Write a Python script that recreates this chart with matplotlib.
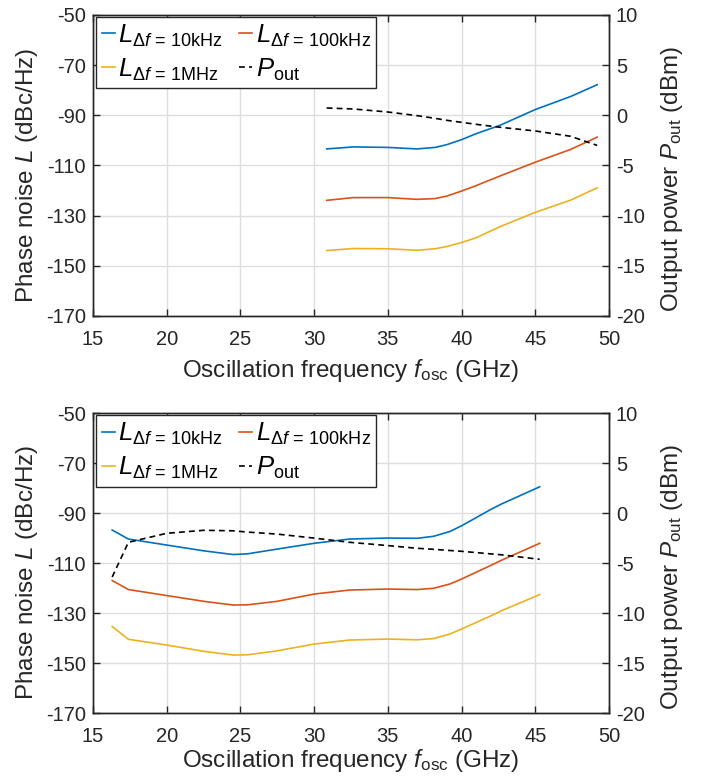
import numpy as np
import matplotlib
matplotlib.use("Agg")
import matplotlib.pyplot as plt

plt.rcParams['font.family'] = ['Liberation Sans', 'DejaVu Sans']
plt.rcParams['mathtext.fontset'] = 'custom'
plt.rcParams['mathtext.rm'] = 'Liberation Sans'
plt.rcParams['mathtext.it'] = 'Liberation Sans:italic'
plt.rcParams['axes.unicode_minus'] = False

# top panel data
f_top = [30.85, 32.66, 35.0, 36.97, 38.2, 39.0, 40.0, 41.0, 42.6, 45.0, 47.4, 49.2]
l10k_top = [-103.4, -102.6, -102.8, -103.4, -102.8, -101.7, -99.7, -97.3, -94.0, -87.7, -82.5, -77.8]
l100k_top = [-123.9, -122.8, -122.8, -123.5, -123.2, -122.2, -120.2, -118.0, -114.2, -108.7, -103.6, -98.7]
l1m_top = [-143.9, -143.1, -143.2, -143.8, -143.2, -142.3, -140.7, -138.8, -134.4, -128.7, -123.8, -118.9]
pout_top = [0.73, 0.63, 0.33, -0.03, -0.3, -0.5, -0.7, -0.9, -1.19, -1.56, -2.09, -3.0]

# bottom panel data
f_bot = [16.3, 17.4, 20.0, 22.5, 24.5, 25.5, 27.5, 30.0, 32.4, 35.0, 37.0, 38.1, 39.2, 40.0, 42.0, 42.7, 45.3]
l10k_bot = [-96.7, -100.3, -102.7, -105.0, -106.5, -106.2, -104.3, -102.0, -100.3, -99.9, -100.0, -99.2, -97.3, -95.0, -88.4, -86.3, -79.4]
l100k_bot = [-116.9, -120.5, -122.9, -125.2, -126.7, -126.6, -125.2, -122.3, -120.7, -120.3, -120.5, -120.0, -118.3, -116.3, -110.8, -108.8, -102.0]
l1m_bot = [-135.3, -140.4, -142.7, -145.2, -146.7, -146.6, -145.0, -142.3, -140.7, -140.3, -140.6, -140.1, -138.3, -136.3, -131.0, -129.0, -122.5]
pout_bot = [-6.37, -2.9, -2.0, -1.7, -1.75, -1.88, -2.08, -2.48, -2.9, -3.23, -3.5, -3.6, -3.72, -3.8, -4.06, -4.15, -4.6]

xticks = [15, 20, 25, 30, 35, 40, 45, 50]
yticks_l = [-170, -150, -130, -110, -90, -70, -50]
yticks_r = [-20, -15, -10, -5, 0, 5, 10]

c_blue = '#0072BD'
c_red = '#D95319'
c_yel = '#EDB120'
c_ax = '#262626'
fs = 14.5
fs_lab = 17.5

fig = plt.figure(figsize=(7.02, 7.76), dpi=100)


def panel(rect, f, l10k, l100k, l1m, pout, xpad):
    ax = fig.add_axes(rect)
    ax2 = ax.twinx()
    h1, = ax.plot(f, l10k, color=c_blue, lw=1.2)
    h2, = ax.plot(f, l100k, color=c_red, lw=1.2)
    h3, = ax.plot(f, l1m, color=c_yel, lw=1.2)
    h4, = ax2.plot(f, pout, color='k', lw=1.2, ls=(0, (3.5, 2.5)))

    ax.set_xlim(15, 50)
    ax.set_ylim(-170, -50)
    ax2.set_ylim(-20, 10)
    ax.set_xticks(xticks)
    ax.set_yticks(yticks_l)
    ax2.set_yticks(yticks_r)
    ax.grid(True, color='#dedede', lw=1.0)
    ax.set_axisbelow(True)

    ax.tick_params(axis='x', direction='in', length=5, width=1, top=True, labelsize=fs,
                   colors=c_ax, pad=10)
    ax.tick_params(axis='y', direction='in', length=5, width=1, labelsize=fs,
                   colors=c_ax, pad=5)
    ax2.tick_params(direction='in', length=5, width=1, labelsize=fs,
                    colors=c_ax, pad=5)
    for a in (ax, ax2):
        for s in a.spines.values():
            s.set_color(c_ax)
            s.set_linewidth(1.0)

    ax.set_xlabel(r'Oscillation frequency $f_{\mathrm{osc}}$ (GHz)', fontsize=fs_lab,
                  color=c_ax, labelpad=xpad)
    ax.set_ylabel(r'Phase noise $L$ (dBc/Hz)', fontsize=fs_lab, color=c_ax, labelpad=4.5)
    ax2.set_ylabel(r'Output power $P_{\mathrm{out}}$ (dBm)', fontsize=fs_lab,
                   color=c_ax, labelpad=10)
    ax.yaxis.label.set_y(0.468)
    ax2.yaxis.label.set_y(0.455)

    handles = [h1, h3, h2, h4]
    labels = [r'$L_{\Delta f\, = \,10\mathrm{kHz}}$', r'$L_{\Delta f\, = \,1\mathrm{MHz}}$',
              r'$L_{\Delta f\, = \,100\mathrm{kHz}}$', r'$P_{\mathrm{out}}$']
    leg = ax2.legend(handles, labels, loc='upper left', bbox_to_anchor=(0.006, 0.994),
                     borderaxespad=0, ncol=2, fontsize=18.5, handlelength=0.5,
                     handletextpad=0.15, columnspacing=0.6, labelspacing=0.3,
                     borderpad=0.22, fancybox=False, framealpha=1)
    leg.get_frame().set_edgecolor(c_ax)
    leg.get_frame().set_linewidth(1.0)
    return ax, ax2


panel([0.1325, 0.5928, 0.735, 0.3879], f_top, l10k_top, l100k_top, l1m_top, pout_top, 6)
panel([0.1325, 0.0808, 0.735, 0.3866], f_bot, l10k_bot, l100k_bot, l1m_bot, pout_bot, 0.5)

fig.savefig('out.png', dpi=100)
